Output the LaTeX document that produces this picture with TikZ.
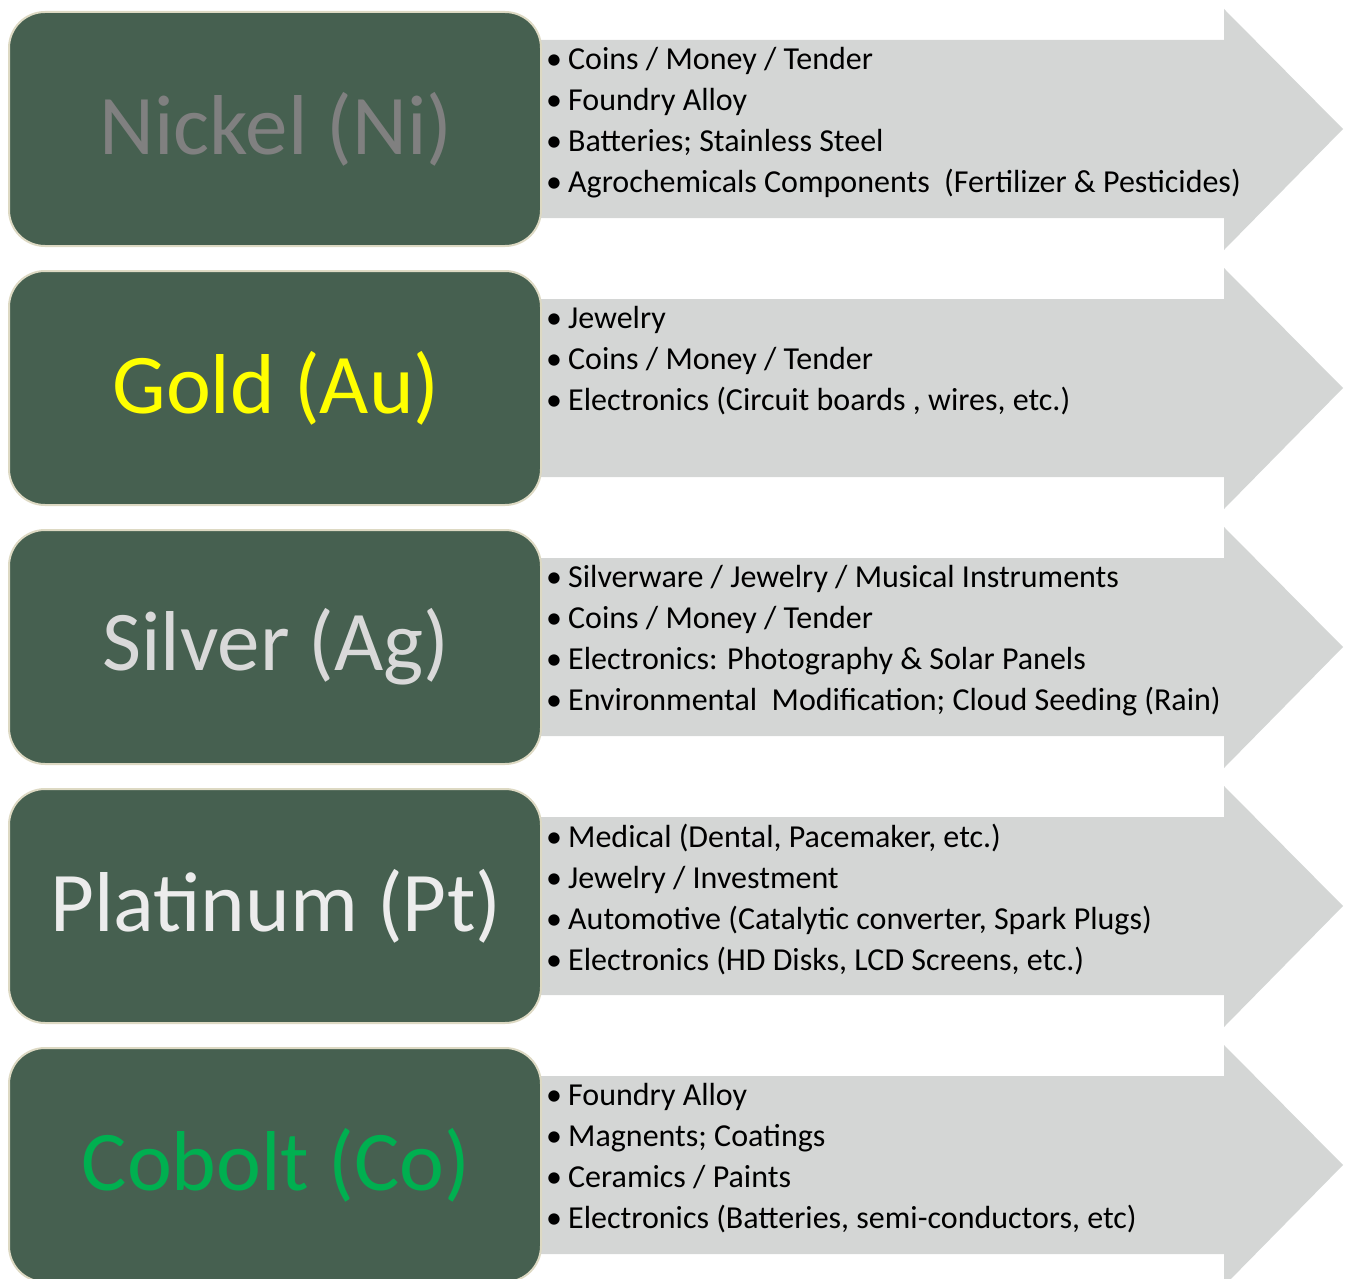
\documentclass[tikz,border=0pt]{standalone}
\usepackage{fontspec}
\setmainfont{Carlito}
\definecolor{boxfill}{RGB}{70,96,80}
\definecolor{boxedge}{RGB}{221,217,195}
\definecolor{arrowfill}{RGB}{212,214,213}
\definecolor{nickelc}{RGB}{128,128,128}
\definecolor{goldc}{RGB}{255,255,0}
\definecolor{silverc}{RGB}{217,217,217}
\definecolor{platc}{RGB}{236,236,236}
\definecolor{cobaltc}{RGB}{0,176,80}
\newcommand{\bul}{\makebox[22pt][l]{•}}
\tikzset{
  metalbox/.style={draw=boxedge, line width=2pt, fill=boxfill, rounded corners=36pt},
  usearrow/.style={fill=arrowfill, draw=none},
  titletext/.style={font=\fontsize{85}{92}\selectfont, inner sep=0pt},
  usetext/.style={font=\fontsize{32}{41}\selectfont, align=left, anchor=north west, inner sep=0pt, text=black}
}
\begin{document}
\begin{tikzpicture}[x=1pt,y=-1pt]
\useasboundingbox (0,0) rectangle (1349,1279);
\clip (0,0) rectangle (1349,1279);
\foreach \i/\c in {1/129,2/388,3/647,4/906,5/1165}{
  \path[usearrow] (500,\c-89) -- (1224,\c-89) -- (1224,\c-120) -- (1343,\c) -- (1224,\c+121) -- (1224,\c+89) -- (500,\c+89) -- cycle;
  \path[metalbox] (9,\c-117) rectangle (541,\c+117);
  \coordinate (box\i) at (276,\c);
  \coordinate (list\i) at (546,\c-82);
}
\node[titletext, text=nickelc] (t1) at (box1) {Nickel (Ni)};
\node[titletext, text=goldc] (t2) at (box2) {Gold (Au)};
\node[titletext, text=silverc] (t3) at (box3) {Silver (Ag)};
\node[titletext, text=platc] (t4) at (box4) {Platinum (Pt)};
\node[titletext, text=cobaltc] (t5) at (box5) {Cobolt (Co)};
\node[usetext] (l1) at (list1) {\bul Coins / Money / Tender\\ \bul Foundry Alloy\\ \bul Batteries; Stainless Steel\\ \bul Agrochemicals Components\ \ (Fertilizer \& Pesticides)};
\node[usetext] (l2) at (list2) {\bul Jewelry\\ \bul Coins / Money / Tender\\ \bul Electronics (Circuit boards , wires, etc.)};
\node[usetext] (l3) at (list3) {\bul Silverware / Jewelry / Musical Instruments\\ \bul Coins / Money / Tender\\ \bul Electronics: Photography \& Solar Panels\\ \bul Environmental\ \ Modification; Cloud Seeding (Rain)};
\node[usetext] (l4) at (list4) {\bul Medical (Dental, Pacemaker, etc.)\\ \bul Jewelry / Investment\\ \bul Automotive (Catalytic converter, Spark Plugs)\\ \bul Electronics (HD Disks, LCD Screens, etc.)};
\node[usetext] (l5) at (list5) {\bul Foundry Alloy\\ \bul Magnents; Coatings\\ \bul Ceramics / Paints\\ \bul Electronics (Batteries, semi-conductors, etc)};
\end{tikzpicture}
\end{document}
